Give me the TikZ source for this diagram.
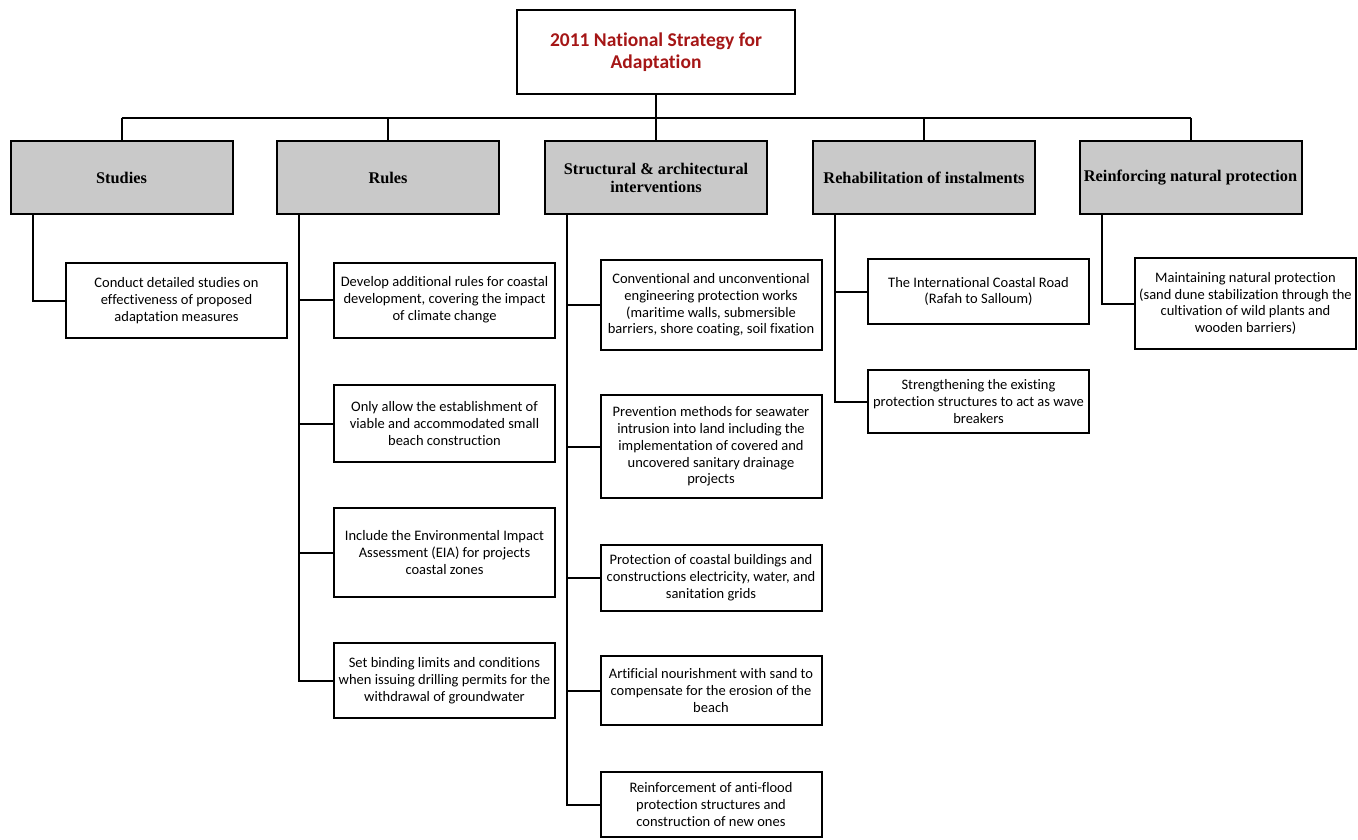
\documentclass[tikz,border=0pt]{standalone}
\usepackage{fontspec}
\setmainfont{Carlito}[Ligatures=NoCommon]
\newfontfamily\headfont{Liberation Serif}
\definecolor{titlered}{RGB}{165,22,22}
\definecolor{headgray}{RGB}{201,201,201}
\begin{document}
\begin{tikzpicture}[x=1pt,y=-1pt,line width=2pt,
    topbox/.style={draw,minimum width=278pt,minimum height=84pt,align=center,
      text=titlered,font=\fontsize{19.5}{22}\selectfont\bfseries},
    headbox/.style={draw,fill=headgray,minimum width=222pt,minimum height=73pt,align=center,
      font=\headfont\fontsize{16.3}{18}\selectfont\bfseries},
    itembox/.style={draw,minimum width=221pt,align=center,inner sep=2pt,
      font=\fontsize{14.5}{16.8}\selectfont}]
    \useasboundingbox (0,0) rectangle (1358,839);
    \node[topbox] (title) at (656,52) {2011 National Strategy for\\Adaptation};
    \foreach \name/\x/\txt in {studies/121.5/Studies,rules/388/Rules,
        struct/656/{Structural \& architectural\\interventions},
        rehab/924/Rehabilitation of instalments,reinf/1190.5/Reinforcing natural protection}
      {\node[headbox] (\name) at (\x,177.5) {\txt};}
    % bus from the title to the five headings
    \coordinate (bus) at (656,118);
    \draw (title.south) -- (bus);
    \draw (studies.north |- bus) -- (reinf.north |- bus);
    \foreach \name in {studies,rules,struct,rehab,reinf}
      {\draw (\name.north) -- (\name.north |- bus);}
    % studies
    \node[itembox,minimum height=75pt] (s1) at (176.5,300.5)
      {Conduct detailed studies on\\effectiveness of proposed\\adaptation measures};
    \draw ([xshift=23pt]studies.south west) |- (s1.west);
    % rules
    \foreach \name/\y/\h/\txt in {
        r1/300/75/{Develop additional rules for coastal\\development, covering the impact\\of climate change},
        r2/423.5/77/{Only allow the establishment of\\viable and accommodated small\\beach construction},
        r3/552.5/89/{Include the Environmental Impact\\Assessment (EIA) for projects\\coastal zones},
        r4/680.5/75/{Set binding limits and conditions\\when issuing drilling permits for the\\withdrawal of groundwater}}
      {\node[itembox,minimum height=\h pt] (\name) at (444.5,\y) {\txt};
       \draw ([xshift=23pt]rules.south west) |- (\name.west);}
    % structural
    \foreach \name/\y/\h/\txt in {
        t1/305/90/{Conventional and unconventional\\engineering protection works\\(maritime walls, submersible\\barriers, shore coating, soil fixation},
        t2/446.5/103/{Prevention methods for seawater\\intrusion into land including the\\implementation of covered and\\uncovered sanitary drainage\\projects},
        t3/578/66/{Protection of coastal buildings and\\constructions electricity, water, and\\sanitation grids},
        t4/690.5/69/{Artificial nourishment with sand to\\compensate for the erosion of the\\beach},
        t5/804.5/65/{Reinforcement of anti-flood\\protection structures and\\construction of new ones}}
      {\node[itembox,minimum height=\h pt] (\name) at (711,\y) {\txt};
       \draw ([xshift=23pt]struct.south west) |- (\name.west);}
    % rehabilitation
    \foreach \name/\y/\h/\txt in {
        h1/291.5/65/{The International Coastal Road\\(Rafah to Salloum)},
        h2/401.5/63/{Strengthening the existing\\protection structures to act as wave\\breakers}}
      {\node[itembox,minimum height=\h pt] (\name) at (978.5,\y) {\txt};
       \draw ([xshift=23pt]rehab.south west) |- (\name.west);}
    % natural protection
    \node[itembox,minimum height=91pt] (n1) at (1245.5,303.5)
      {Maintaining natural protection\\(sand dune stabilization through the\\cultivation of wild plants and\\wooden barriers)};
    \draw ([xshift=23pt]reinf.south west) |- (n1.west);
\end{tikzpicture}
\end{document}
